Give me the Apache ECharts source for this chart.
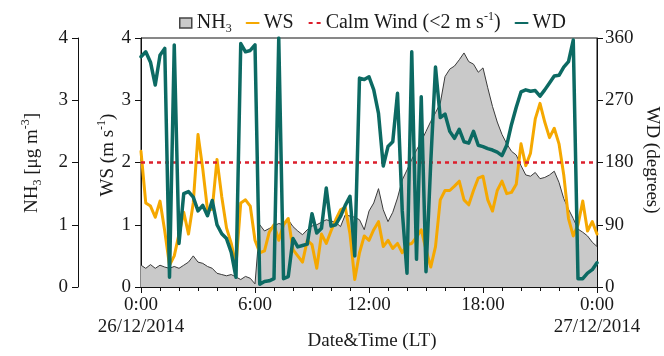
<!DOCTYPE html>
<html>
<head>
<meta charset="utf-8">
<script src="https://cdn.jsdelivr.net/npm/echarts@6/dist/echarts.min.js"></script>
<style>
  html, body { margin: 0; padding: 0; background: #fff; }
  #chart { width: 664px; height: 356px; }
</style>
</head>
<body>
<div id="chart"></div>
<script>
'use strict';

// samples every 15 min, from 0:00 26/12/2014 to 0:00 27/12/2014
var stepHours = 0.25;

// NH3 concentration (ug m-3)
var nh3 = [
  0.35, 0.30, 0.36, 0.30,  0.35, 0.32, 0.30, 0.33,  0.30, 0.35, 0.40, 0.50,
  0.40, 0.38, 0.33, 0.30,  0.22, 0.20, 0.18, 0.20,  0.16, 0.12, 0.17, 0.14,
  0.05, 1.00, 0.90, 0.94,  0.98, 1.02, 1.00, 1.08,  0.97, 0.90, 0.84, 0.92,
  0.98, 1.00, 1.04, 1.08,  1.06, 1.04, 0.97, 1.16,  1.14, 1.12, 1.08, 0.92,
  1.22, 1.35, 1.58, 1.24,  1.05, 1.20, 1.43, 1.72,  1.88, 2.05, 2.20, 2.34,
  2.50, 2.66, 2.80, 2.95,  3.38, 3.50, 3.55, 3.65,  3.76, 3.62, 3.58, 3.45,
  3.52, 3.20, 2.90, 2.65,  2.45, 2.30, 2.18, 2.12,  1.95, 1.80, 1.78, 1.84,
  1.74, 1.76, 1.80, 1.86,  1.68, 1.42, 1.25, 1.10,  0.93, 0.88, 0.82, 0.72,
  0.65
];

// wind speed (m s-1)
var ws = [
  2.18, 1.35, 1.30, 1.12,  1.38, 0.90, 0.35, 0.50,  0.85, 1.20, 0.85, 1.35,
  2.45, 1.90, 1.24, 1.25,  2.05, 1.45, 0.95, 0.70,  0.35, 1.35, 1.40, 1.30,
  0.75, 0.55, 0.58, 0.88,  1.00, 0.75, 1.00, 1.10,  0.60, 0.50, 0.40, 0.75,
  0.68, 0.30, 0.85, 0.70,  0.90, 1.08, 1.24, 1.28,  0.85, 0.12, 0.55, 0.82,
  0.75, 0.92, 1.05, 0.65,  0.75, 0.62, 0.70, 0.55,  0.68, 0.70, 0.80, 0.92,
  0.60, 0.32, 0.65, 1.40,  1.55, 1.55, 1.62, 1.70,  1.40, 1.32, 1.55, 1.75,
  1.78, 1.40, 1.22, 1.55,  1.70, 1.50, 1.52, 1.65,  2.30, 1.95, 2.15, 2.70,
  2.95, 2.65, 2.40, 2.55,  2.30, 1.80, 1.10, 0.82,  1.00, 1.38, 0.90, 1.05,
  0.85
];

// wind direction (degrees)
var wd = [
  333, 340, 325, 292,  335, 345,  14, 350,   63, 135, 138, 130,
  110, 118, 103, 125,   90,  77,  70,  50,   14, 352, 340, 342,
  350,   4,   8,   9,   12, 360,  12,  15,   70,  58,  60,  62,
  106,  78,  85, 143,   88,  90, 102, 118,  131,  45, 302, 300,
  304, 285, 251, 175,  203, 210, 280, 110,   20, 340,  40, 275,
   22, 180, 318, 245,  250, 225, 215, 228,  210, 208, 225, 205,
  203, 200, 198, 195,  190, 205, 235, 260,  282, 285, 283, 284,
  276, 285, 295, 305,  306, 318, 326, 357,   12,  12,  20,  25,
   35
];

// calm wind threshold (m s-1)
var calmHours = [0, 24];
var calmWind = [2, 2];

var tickHours = [0, 6, 12, 18, 24];
var tickLabels = ['0:00\n26/12/2014', '6:00', '12:00', '18:00', '0:00\n27/12/2014'];

function pairs(values) {
  var out = [];
  for (var i = 0; i < values.length; i++) out.push([i * stepHours, values[i]]);
  return out;
}

var FONT = 'Liberation Serif';
var TXT = '#1a1a1a';
var INK = '#111111';
var rich = {
  sub: { fontSize: 12, lineHeight: 12, verticalAlign: 'bottom', fontFamily: FONT, fill: TXT, color: TXT },
  sup: { fontSize: 12, lineHeight: 12, verticalAlign: 'top', fontFamily: FONT, fill: TXT, color: TXT }
};

function axisParts() {
  return {
    axisLine: { show: true, onZero: false, lineStyle: { color: INK, width: 1 } },
    axisTick: { show: true, inside: false, length: 6, lineStyle: { color: INK, width: 1 } },
    splitLine: { show: false }
  };
}

function yAxis(extra) {
  return Object.assign(axisParts(), {
    type: 'value',
    axisLabel: { show: true, fontFamily: FONT, fontSize: 19, color: TXT, margin: 10 }
  }, extra);
}

// axis titles as plain text elements
function title(text, x, y, rotation) {
  return {
    type: 'text', x: x, y: y, rotation: rotation || 0, silent: true,
    style: {
      text: text, fill: TXT, fontFamily: FONT, fontSize: 19, lineHeight: 24,
      align: 'center', verticalAlign: 'middle', rich: rich
    }
  };
}

var chart = echarts.init(document.getElementById('chart'));

var option = {
  animation: false,
  grid: {
    left: 141, right: 67, top: 38, bottom: 69,
    show: true, borderColor: INK, borderWidth: 1,
    outerBoundsMode: 'none', containLabel: false
  },
  legend: {
    top: 6,
    left: 174,
    itemWidth: 12,
    itemHeight: 10,
    itemGap: 14,
    textStyle: { fontFamily: FONT, fontSize: 20, color: TXT, lineHeight: 24, rich: rich },
    formatter: function (name) {
      if (name === 'NH3') return 'NH{sub|3}';
      if (name === 'Calm Wind') return 'Calm Wind (<2 m s{sup|-1})';
      return name;
    },
    data: [
      { name: 'NH3', icon: 'rect', itemStyle: { color: '#c9c9c9', borderColor: '#444', borderWidth: 1.5 } },
      { name: 'WS', itemStyle: { opacity: 0 } },
      { name: 'Calm Wind', itemStyle: { opacity: 0 } },
      { name: 'WD', itemStyle: { opacity: 0 } }
    ]
  },
  graphic: [
    title('NH{sub|3} [μg m{sup|-3}]', 32, 163, Math.PI / 2),
    title('WS (m s{sup|-1})', 108, 155, Math.PI / 2),
    title('WD (degrees)', 652, 160, -Math.PI / 2),
    title('Date&Time (LT)', 372, 341, 0)
  ],
  xAxis: Object.assign(axisParts(), {
    type: 'value',
    min: 0,
    max: 24,
    interval: 6,
    axisLabel: {
      fontFamily: FONT, fontSize: 19, color: TXT, lineHeight: 22, margin: 7,
      formatter: function (v) { return tickLabels[tickHours.indexOf(v)]; }
    },
    minorTick: { show: true, splitNumber: 6, length: 4, lineStyle: { color: INK, width: 1 } },
    minorSplitLine: { show: false }
  }),
  yAxis: [
    yAxis({ position: 'left', offset: 63, min: 0, max: 4, interval: 1 }),
    yAxis({ position: 'left', offset: 0, min: 0, max: 4, interval: 1 }),
    yAxis({
      position: 'right', min: 0, max: 360, interval: 90,
      axisLabel: { show: true, fontFamily: FONT, fontSize: 19, color: TXT, margin: 8 }
    })
  ],
  series: [
    {
      name: 'NH3', type: 'line', yAxisIndex: 0, data: pairs(nh3),
      symbol: 'none',
      lineStyle: { color: '#3a3a3a', width: 1 },
      itemStyle: { color: '#c9c9c9' },
      areaStyle: { color: '#c9c9c9', opacity: 1 }
    },
    {
      name: 'WS', type: 'line', yAxisIndex: 1, data: pairs(ws),
      symbol: 'none',
      itemStyle: { color: '#f5a800' },
      lineStyle: { color: '#f5a800', width: 3, join: 'round', cap: 'round' }
    },
    {
      name: 'Calm Wind', type: 'line', yAxisIndex: 1,
      data: calmHours.map(function (h, i) { return [h, calmWind[i]]; }),
      symbol: 'none',
      itemStyle: { color: '#dc1f2c' },
      lineStyle: { color: '#dc1f2c', width: 2.5, type: [4, 4] }
    },
    {
      name: 'WD', type: 'line', yAxisIndex: 2, data: pairs(wd),
      symbol: 'none',
      itemStyle: { color: '#0c6a63' },
      lineStyle: { color: '#0c6a63', width: 3.5, join: 'round', cap: 'round' }
    }
  ]
};

chart.setOption(option);
</script>
</body>
</html>
